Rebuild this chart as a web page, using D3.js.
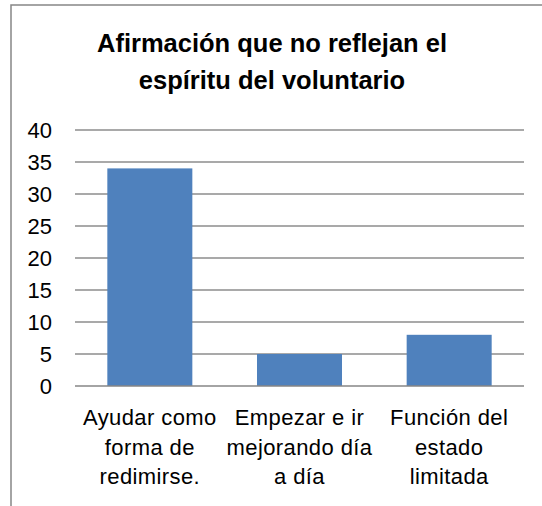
<!DOCTYPE html>
<html>
<head>
<meta charset="utf-8">
<script src="https://cdn.jsdelivr.net/npm/d3@7"></script>
<style>
  body { margin: 0; background: #fff; }
  text { font-family: "Liberation Sans", Arial, sans-serif; }
</style>
</head>
<body>
<div id="chart"></div>
<script>

var width = 542;
var height = 506;

// data
var categories = [
    ["Ayudar como", "forma de", "redimirse."],
    ["Empezar e ir", "mejorando día", "a día"],
    ["Función del", "estado", "limitada"]
];
var values = [34, 5, 8];
var yTicks = [0, 5, 10, 15, 20, 25, 30, 35, 40];
var titleLines = ["Afirmación que no reflejan el", "espíritu del voluntario"];

var plot = {left: 75, right: 524, top: 130, bottom: 386};

var svg = d3.select("#chart")
    .append("svg")
        .attr("width", width)
        .attr("height", height)
        ;

// outer frame (cut off at right and bottom)
svg.append("rect")
    .attr("x", 11)
    .attr("y", 5)
    .attr("width", 600)
    .attr("height", 600)
    .attr("fill", "none")
    .attr("stroke", "#868686")
    .attr("stroke-width", 1.5)
    ;

var x = d3.scaleBand()
    .domain(d3.range(values.length))
    .range([plot.left, plot.right])
    .paddingInner(0.432)
    .paddingOuter(0.216)
    ;

var y = d3.scaleLinear()
    .domain([0, 40])
    .range([plot.bottom, plot.top])
    ;

// gridlines
svg.selectAll("line.grid")
    .data(yTicks.slice(1))
    .enter().append("line")
    .attr("class", "grid")
    .attr("x1", plot.left)
    .attr("x2", plot.right)
    .attr("y1", function(d) { return y(d); })
    .attr("y2", function(d) { return y(d); })
    .attr("stroke", "#8c8c8c")
    .attr("stroke-width", 1.5)
    ;

// y tick labels
svg.selectAll("text.ytick")
    .data(yTicks)
    .enter().append("text")
    .attr("class", "ytick")
    .attr("x", 52)
    .attr("y", function(d) { return y(d); })
    .attr("dy", "0.36em")
    .attr("text-anchor", "end")
    .attr("font-size", "22px")
    .attr("fill", "#000")
    .text(function(d) { return d; })
    ;

// bars
svg.selectAll("rect.bar")
    .data(values)
    .enter().append("rect")
    .attr("class", "bar")
    .attr("x", function(d, i) { return x(i); })
    .attr("y", function(d) { return y(d); })
    .attr("width", x.bandwidth())
    .attr("height", function(d) { return y(0) - y(d); })
    .attr("fill", "#4f81bd")
    ;

// baseline
svg.append("line")
    .attr("x1", plot.left)
    .attr("x2", plot.right)
    .attr("y1", y(0))
    .attr("y2", y(0))
    .attr("stroke", "#868686")
    .attr("stroke-width", 1.5)
    ;

// category labels
var cat = svg.selectAll("text.cat")
    .data(categories)
    .enter().append("text")
    .attr("class", "cat")
    .attr("text-anchor", "middle")
    .attr("font-size", "22px")
    .attr("letter-spacing", "0.4px")
    .attr("fill", "#000")
    ;

cat.selectAll("tspan")
    .data(function(d, i) { return d.map(function(s) { return {s: s, i: i}; }); })
    .enter().append("tspan")
    .attr("x", function(d) { return x(d.i) + x.bandwidth() / 2; })
    .attr("y", function(d, j) { return 425 + j * 29.7; })
    .text(function(d) { return d.s; })
    ;

// title
svg.selectAll("text.title")
    .data(titleLines)
    .enter().append("text")
    .attr("class", "title")
    .attr("x", 272)
    .attr("y", function(d, i) { return 52 + i * 36.5; })
    .attr("text-anchor", "middle")
    .attr("font-size", "25.5px")
    .attr("font-weight", "bold")
    .attr("fill", "#000")
    .text(function(d) { return d; })
    ;

</script>
</body>
</html>
